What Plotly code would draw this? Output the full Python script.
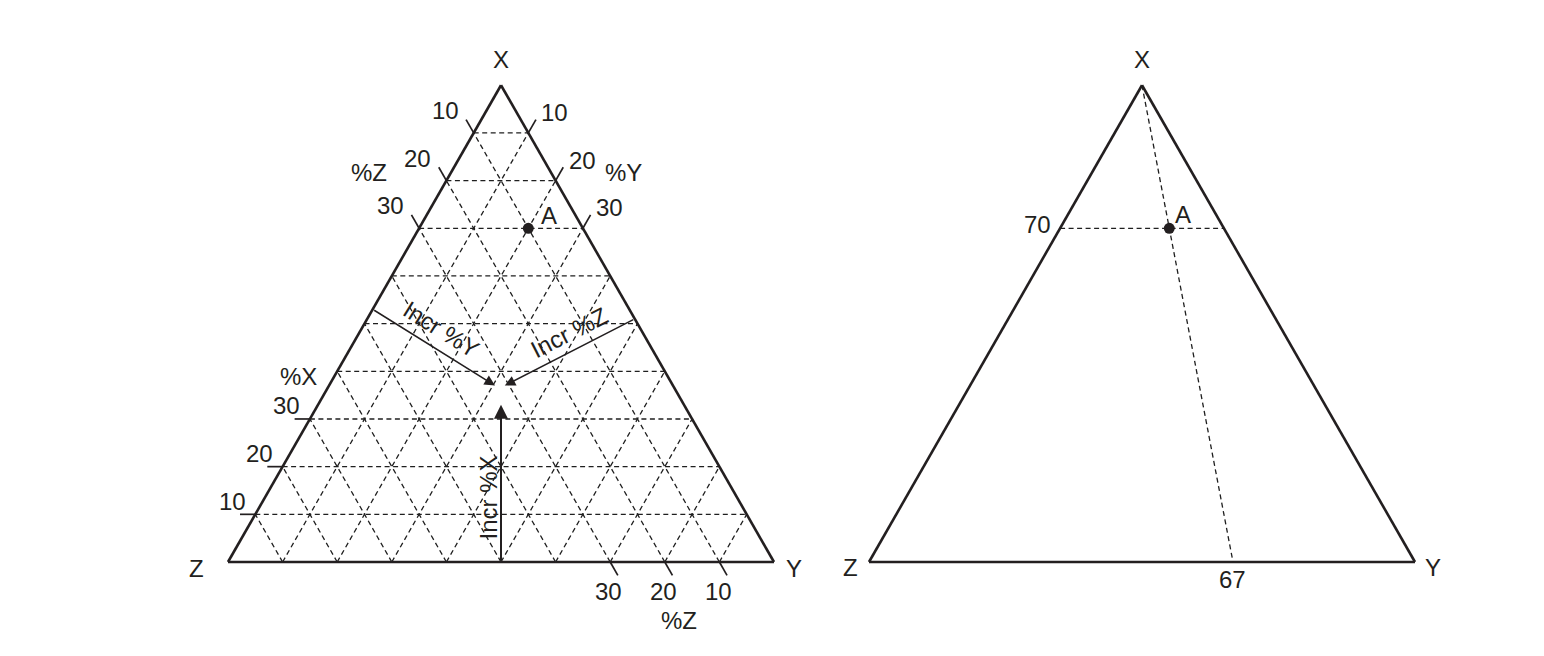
import math
import plotly.graph_objects as go

# ---------------- data ----------------
grid_levels = [10, 20, 30, 40, 50, 60, 70, 80, 90]
tick_levels = [10, 20, 30]
tick_labels = ["10", "20", "30"]
corner_names = ["X", "Y", "Z"]
point_A = (70, 20, 10)          # (%X, %Y, %Z)
point_A_label = "A"
# arrows (tail composition, head composition) as (%X, %Y, %Z)
incr_x_arrow = ((0, 50, 50), (33, 33.5, 33.5))
incr_y_arrow = ((53, 0, 47), (37, 30.4, 32.6))
incr_z_arrow = ((51, 49, 0), (37, 32.2, 30.8))
arrow_texts = ["Incr %X", "Incr %Y", "Incr %Z"]
axis_pct_labels = ["%X", "%Y", "%Z"]

# ---------------- geometry helpers ----------------
SQ3 = math.sqrt(3) / 2
PX_X = 5.46    # pixels per unit horizontally (side = 100 units)
PX_Y = 5.505   # pixels per unit vertically
RIGHT_OFFSET = 641 / PX_X
INK = "#231f20"
GRID = "#1f1f1f"
FONT = "Liberation Sans, Arial, Helvetica, sans-serif"
FS = 24


def tern(c, off=0.0):
    X, Y, Z = c
    s = X + Y + Z
    return off + (Y + X / 2) / s * 100, X / s * 100 * SQ3


def seg_trace(segs, off, **line):
    xs, ys = [], []
    for a, b in segs:
        x0, y0 = tern(a, off)
        x1, y1 = tern(b, off)
        xs += [x0, x1, None]
        ys += [y0, y1, None]
    return go.Scatter(x=xs, y=ys, mode="lines", line=line, hoverinfo="skip", showlegend=False)


fig = go.Figure()
annotations = []


def label(text, c, off, dx, dy, size=FS, angle=0):
    x, y = tern(c, off)
    annotations.append(dict(x=x, y=y, xref="x", yref="y", text=text, showarrow=False,
                            xshift=dx, yshift=dy, textangle=angle,
                            font=dict(family=FONT, size=size, color=INK),
                            xanchor="center", yanchor="middle"))


DASH = "5px,3.5px"
TL = 2.8  # tick length in units

# ---------------- left triangle ----------------
grid = []
for k in grid_levels:
    grid.append(((k, 0, 100 - k), (k, 100 - k, 0)))      # constant X
    grid.append(((0, k, 100 - k), (100 - k, k, 0)))      # constant Y
    grid.append(((0, 100 - k, k), (100 - k, 0, k)))      # constant Z
fig.add_trace(seg_trace(grid, 0, color=GRID, width=1.3, dash=DASH))

edges = [((100, 0, 0), (0, 0, 100)), ((0, 0, 100), (0, 100, 0)), ((0, 100, 0), (100, 0, 0))]
fig.add_trace(seg_trace(edges, 0, color=INK, width=2.6))

ticks = []
for k in tick_levels:
    ticks.append(((100 - k, 0, k), (100 - k + TL, -TL, k)))   # %Z on left edge near X
    ticks.append(((100 - k, k, 0), (100 - k + TL, k, -TL)))   # %Y on right edge
    ticks.append(((k, 0, 100 - k), (k, -TL, 100 - k + TL)))   # %X on left edge near Z
    ticks.append(((0, 100 - k, k), (-TL, 100 - k + TL, k)))   # %Z on bottom edge
fig.add_trace(seg_trace(ticks, 0, color=INK, width=1.7))

for k, t in zip(tick_levels, tick_labels):
    label(t, (100 - k + TL, -TL, k), 0, -21, 9)
    label(t, (100 - k + TL, k, -TL), 0, 19, 7)
    label(t, (k, -TL, 100 - k + TL), 0, -8, 13)
    label(t, (-TL, 100 - k + TL, k), 0, -9, -16)

m = tick_levels[1]
label(axis_pct_labels[2], (100 - m + TL, -TL, m), 0, -70, -5)
label(axis_pct_labels[1], (100 - m + TL, m, -TL), 0, 60, -5)
label(axis_pct_labels[0], (tick_levels[-1], -TL, 100 - tick_levels[-1] + TL), 0, 4, 42)
label(axis_pct_labels[2], (-TL, 100 - m + TL, m), 0, 7, -45)

# corner labels
label(corner_names[0], (100, 0, 0), 0, 0, 26)
label(corner_names[2], (0, 0, 100), 0, -32, -6)
label(corner_names[1], (0, 100, 0), 0, 20, -6)

# point A
ax_, ay_ = tern(point_A, 0)
fig.add_trace(go.Scatter(x=[ax_], y=[ay_], mode="markers",
                         marker=dict(size=11, color=INK), showlegend=False, hoverinfo="skip"))
label(point_A_label, point_A, 0, 21, 13)

# arrows
for (tail, head), w in zip([incr_x_arrow, incr_y_arrow, incr_z_arrow], [2.0, 1.5, 1.5]):
    hx, hy = tern(head, 0)
    tx, ty = tern(tail, 0)
    annotations.append(dict(x=hx, y=hy, ax=tx, ay=ty, xref="x", yref="y", axref="x", ayref="y",
                            text="", showarrow=True, arrowhead=2, arrowsize=1.4,
                            arrowwidth=w, arrowcolor=INK, standoff=0))


def along(arrow, frac):
    (a, b) = arrow
    return tuple(a[i] + (b[i] - a[i]) * frac for i in range(3))


label(arrow_texts[0], along(incr_x_arrow, 0.41), 0, -13, 0, angle=-90)
label(arrow_texts[1], along(incr_y_arrow, 0.48), 0, 10, 16, angle=32)
label(arrow_texts[2], along(incr_z_arrow, 0.45), 0, -7, 16, angle=-27)

# ---------------- right triangle ----------------
R = RIGHT_OFFSET
fig.add_trace(seg_trace(edges, R, color=INK, width=2.6))
Xa, Ya, Za = point_A
base_y = Ya / (Ya + Za) * 100
right_lines = [((Xa, 0, 100 - Xa), (Xa, 100 - Xa, 0)),
               ((100, 0, 0), (0, base_y, 100 - base_y))]
fig.add_trace(seg_trace(right_lines, R, color=GRID, width=1.3, dash=DASH))
rx, ry = tern(point_A, R)
fig.add_trace(go.Scatter(x=[rx], y=[ry], mode="markers",
                         marker=dict(size=11, color=INK), showlegend=False, hoverinfo="skip"))
label(point_A_label, point_A, R, 14, 14)
label(str(Xa), (Xa, 0, 100 - Xa), R, -23, 4)
label(str(round(base_y)), (0, base_y, 100 - base_y), R, -1, -17)
label(corner_names[0], (100, 0, 0), R, 0, 26)
label(corner_names[2], (0, 0, 100), R, -19, -5)
label(corner_names[1], (0, 100, 0), R, 18, -5)

# ---------------- layout ----------------
W, H = 1544, 656
x0px, y0px = 220, 554   # page body margin (8px) accounted for
fig.update_layout(
    width=W, height=H, margin=dict(l=0, r=0, t=0, b=0),
    paper_bgcolor="white", plot_bgcolor="white",
    xaxis=dict(range=[-x0px / PX_X, (W - x0px) / PX_X], visible=False, fixedrange=True),
    yaxis=dict(range=[-(H - y0px) / PX_Y, y0px / PX_Y], visible=False, fixedrange=True),
    showlegend=False,
    annotations=annotations,
)
fig.write_html("out.html")
